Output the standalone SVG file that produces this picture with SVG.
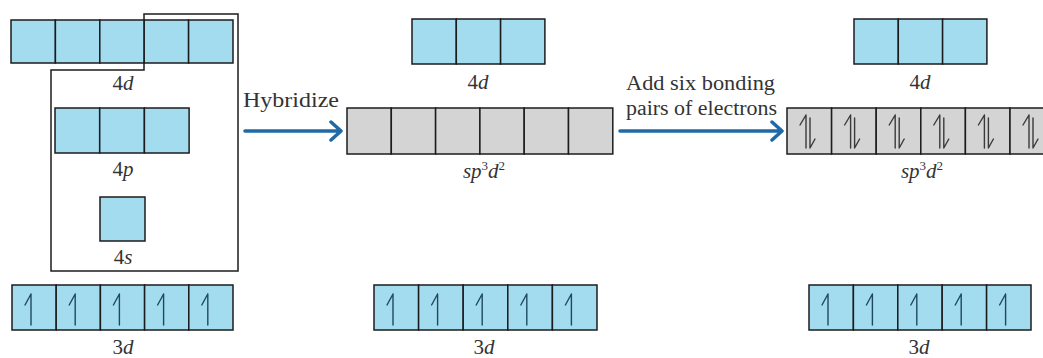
<svg xmlns="http://www.w3.org/2000/svg" width="1043" height="358" viewBox="0 0 1043 358">
<style>
.b{fill:#a3dbef;stroke:#1c1c1c;stroke-width:1.5}
.g{fill:#d4d4d4;stroke:#1c1c1c;stroke-width:1.5}
.e{fill:none;stroke:#1e4a5e;stroke-width:1.4;stroke-linecap:round;stroke-linejoin:round}
.ep{fill:none;stroke:#3a3a3a;stroke-width:1.4;stroke-linecap:round;stroke-linejoin:round}
.lab{font-family:"Liberation Serif","Times New Roman",serif;font-size:21px;fill:#333;text-anchor:middle}
.txt{font-family:"Liberation Serif","Times New Roman",serif;font-size:20px;fill:#333}
.it{font-style:italic}
.sup{font-size:13px;font-style:normal}
.conn{fill:none;stroke:#1f69a6;stroke-width:3.5;stroke-linecap:round;stroke-linejoin:round}
.frame{fill:none;stroke:#1c1c1c;stroke-width:1.5}
</style>
<defs>
<g id="up"><path class="e" d="M0,0 V31 M0,0 L-6,11"/></g>
<g id="pair"><path class="ep" d="M0,0 V33 M0,0 L-6,10 M4,3 V33 L9,24"/></g>
</defs>
<rect width="1043" height="358" fill="#ffffff"/>

<g id="frame-left">
<path class="frame" d="M51,70 H144 V14 H238 V271 H51 Z"/>
</g>

<g id="left-4d">
<rect class="b" x="11" y="20" width="44.4" height="43"/>
<rect class="b" x="55.4" y="20" width="44.4" height="43"/>
<rect class="b" x="99.8" y="20" width="44.4" height="43"/>
<rect class="b" x="144.2" y="20" width="44.4" height="43"/>
<rect class="b" x="188.6" y="20" width="44.4" height="43"/>
<text class="lab" x="123" y="90">4<tspan class="it">d</tspan></text>
</g>

<g id="left-4p">
<rect class="b" x="55" y="108" width="44.7" height="45"/>
<rect class="b" x="99.7" y="108" width="44.7" height="45"/>
<rect class="b" x="144.4" y="108" width="44.7" height="45"/>
<text class="lab" x="123" y="176">4<tspan class="it">p</tspan></text>
</g>

<g id="left-4s">
<rect class="b" x="100" y="197" width="45" height="44"/>
<text class="lab" x="123" y="264">4<tspan class="it">s</tspan></text>
</g>

<g id="left-3d">
<rect class="b" x="12" y="285" width="44.2" height="45"/>
<rect class="b" x="56.2" y="285" width="44.2" height="45"/>
<rect class="b" x="100.4" y="285" width="44.2" height="45"/>
<rect class="b" x="144.6" y="285" width="44.2" height="45"/>
<rect class="b" x="188.8" y="285" width="44.2" height="45"/>
<use href="#up" x="31" y="294"/>
<use href="#up" x="75.2" y="294"/>
<use href="#up" x="119.4" y="294"/>
<use href="#up" x="163.6" y="294"/>
<use href="#up" x="207.8" y="294"/>
<text class="lab" x="123" y="354">3<tspan class="it">d</tspan></text>
</g>

<g id="mid-4d">
<rect class="b" x="412" y="19" width="44.3" height="45"/>
<rect class="b" x="456.3" y="19" width="44.3" height="45"/>
<rect class="b" x="500.6" y="19" width="44.3" height="45"/>
<text class="lab" x="478" y="89">4<tspan class="it">d</tspan></text>
</g>

<g id="mid-sp3d2">
<rect class="g" x="347" y="108" width="44.3" height="46"/>
<rect class="g" x="391.3" y="108" width="44.3" height="46"/>
<rect class="g" x="435.6" y="108" width="44.3" height="46"/>
<rect class="g" x="479.9" y="108" width="44.3" height="46"/>
<rect class="g" x="524.2" y="108" width="44.3" height="46"/>
<rect class="g" x="568.5" y="108" width="44.3" height="46"/>
<text class="lab it" x="484" y="178">sp<tspan class="sup" dy="-8">3</tspan><tspan dy="8">d</tspan><tspan class="sup" dy="-8">2</tspan></text>
</g>

<g id="mid-3d">
<rect class="b" x="374" y="285" width="44.6" height="45"/>
<rect class="b" x="418.6" y="285" width="44.6" height="45"/>
<rect class="b" x="463.2" y="285" width="44.6" height="45"/>
<rect class="b" x="507.8" y="285" width="44.6" height="45"/>
<rect class="b" x="552.4" y="285" width="44.6" height="45"/>
<use href="#up" x="393" y="294"/>
<use href="#up" x="437.6" y="294"/>
<use href="#up" x="482.2" y="294"/>
<use href="#up" x="526.8" y="294"/>
<use href="#up" x="571.4" y="294"/>
<text class="lab" x="484" y="354">3<tspan class="it">d</tspan></text>
</g>

<g id="right-4d">
<rect class="b" x="854" y="19" width="44.3" height="45"/>
<rect class="b" x="898.3" y="19" width="44.3" height="45"/>
<rect class="b" x="942.6" y="19" width="44.3" height="45"/>
<text class="lab" x="920" y="89">4<tspan class="it">d</tspan></text>
</g>

<g id="right-sp3d2">
<rect class="g" x="787" y="108" width="44.6" height="46"/>
<rect class="g" x="831.6" y="108" width="44.6" height="46"/>
<rect class="g" x="876.2" y="108" width="44.6" height="46"/>
<rect class="g" x="920.8" y="108" width="44.6" height="46"/>
<rect class="g" x="965.4" y="108" width="44.6" height="46"/>
<rect class="g" x="1010" y="108" width="44.6" height="46"/>
<use href="#pair" x="806" y="115"/>
<use href="#pair" x="850.6" y="115"/>
<use href="#pair" x="895.2" y="115"/>
<use href="#pair" x="939.8" y="115"/>
<use href="#pair" x="984.4" y="115"/>
<use href="#pair" x="1029" y="115"/>
<text class="lab it" x="922" y="178">sp<tspan class="sup" dy="-8">3</tspan><tspan dy="8">d</tspan><tspan class="sup" dy="-8">2</tspan></text>
</g>

<g id="right-3d">
<rect class="b" x="809" y="285" width="44.4" height="45"/>
<rect class="b" x="853.4" y="285" width="44.4" height="45"/>
<rect class="b" x="897.8" y="285" width="44.4" height="45"/>
<rect class="b" x="942.2" y="285" width="44.4" height="45"/>
<rect class="b" x="986.6" y="285" width="44.4" height="45"/>
<use href="#up" x="828" y="294"/>
<use href="#up" x="872.4" y="294"/>
<use href="#up" x="916.8" y="294"/>
<use href="#up" x="961.2" y="294"/>
<use href="#up" x="1005.6" y="294"/>
<text class="lab" x="919" y="354">3<tspan class="it">d</tspan></text>
</g>

<g id="connectors">
<path class="conn" d="M245,131 H340 M331,122 L341,131 L331,140"/>
<path class="conn" d="M620,131 H781 M772,122 L782,131 L772,140"/>
<text class="txt" x="243" y="107" textLength="96" lengthAdjust="spacingAndGlyphs">Hybridize</text>
<text class="txt" x="626" y="90" textLength="149" lengthAdjust="spacingAndGlyphs">Add six bonding</text>
<text class="txt" x="626" y="115" textLength="151" lengthAdjust="spacingAndGlyphs">pairs of electrons</text>
</g>
</svg>
